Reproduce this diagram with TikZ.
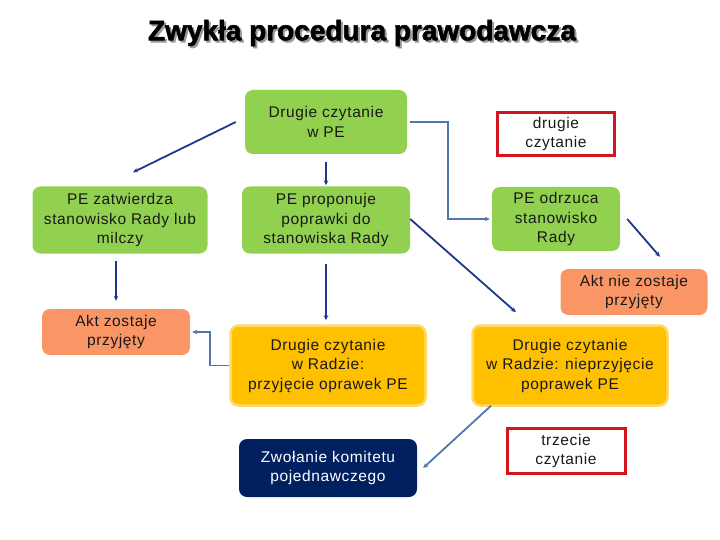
\documentclass[tikz,border=0pt]{standalone}
\usepackage{fontspec}
\setmainfont{Liberation Sans}
\newfontfamily\titlefont[FakeBold=2]{Liberation Sans Bold}
\newfontfamily\boxfont[LetterSpace=4]{Liberation Sans}
\usetikzlibrary{arrows.meta}
\definecolor{grn}{RGB}{146,208,80}
\definecolor{salmon}{RGB}{250,150,102}
\definecolor{ylw}{RGB}{255,192,0}
\definecolor{ylwb}{RGB}{255,217,102}
\definecolor{navy}{RGB}{0,32,96}
\definecolor{redb}{RGB}{210,20,30}
\definecolor{darr}{RGB}{30,55,140}
\definecolor{larr}{RGB}{80,120,170}
\definecolor{txt}{RGB}{25,25,25}
\tikzset{
  box/.style={rounded corners=8pt, align=center, inner sep=0pt, text=txt,
    font=\boxfont\fontsize{15.5}{19.5}\selectfont},
  gbox/.style={box, fill=grn},
  sbox/.style={box, fill=salmon},
  ybox/.style={box, fill=ylw, draw=ylwb, line width=2.5pt},
  nbox/.style={box, fill=navy, text=white},
  rbox/.style={align=center, inner sep=0pt, draw=redb, line width=3pt, text=txt,
    font=\boxfont\fontsize{15.5}{19.5}\selectfont},
  darrow/.style={draw=darr, line width=1.8pt, -{Stealth[length=5pt,width=4.5pt]}},
  larrow/.style={draw=larr, line width=1.8pt, -{Stealth[length=5pt,width=4.5pt]}},
}
\begin{document}
\begin{tikzpicture}[x=1pt,y=-1pt]
\useasboundingbox (0,0) rectangle (720,540);
% title
\node[text=black!40, font=\titlefont\fontsize{28}{32}\selectfont] (tshadow) at (364,35) {Zwykła procedura prawodawcza};
\node[text=black, font=\titlefont\fontsize{28}{32}\selectfont] (title) at (362,33) {Zwykła procedura prawodawcza};
% nodes
\node[gbox, minimum width=162pt, minimum height=64pt] (n1) at (326,122) {Drugie czytanie\\w PE};
\node[gbox, minimum width=175pt, minimum height=67pt] (n2) at (120,220) {PE zatwierdza\\stanowisko Rady lub\\milczy};
\node[gbox, minimum width=168pt, minimum height=67pt] (n3) at (326,220) {PE proponuje\\poprawki do\\stanowiska Rady};
\node[gbox, minimum width=128pt, minimum height=64pt] (n4) at (556,219) {PE odrzuca\\stanowisko\\Rady};
\node[rbox, minimum width=117pt, minimum height=43pt] (r1) at (556,134) {drugie\\czytanie};
\node[sbox, minimum width=147pt, minimum height=46pt] (n6) at (634,292) {Akt nie zostaje\\przyjęty};
\node[sbox, minimum width=148pt, minimum height=46pt] (n7) at (116,332) {Akt zostaje\\przyjęty};
\node[ybox, minimum width=195pt, minimum height=80pt] (n8) at (328,365.5) {Drugie czytanie\\w Radzie:\\przyjęcie oprawek PE};
\node[ybox, minimum width=195pt, minimum height=80pt] (n9) at (570,365.5) {Drugie czytanie\\w Radzie: nieprzyjęcie\\poprawek PE};
\node[nbox, minimum width=178pt, minimum height=58pt] (n10) at (328,468) {Zwołanie komitetu\\pojednawczego};
\node[rbox, minimum width=118pt, minimum height=45pt] (r2) at (566,451) {trzecie\\czytanie};
% connectors
\draw[darrow] ([xshift=-9pt]n1.west) -- ([xshift=13pt,yshift=14pt]n2.north);
\draw[darrow, shorten <=8pt, shorten >=1pt] (n1) -- (n3);
\draw[larrow, shorten <=3pt, shorten >=2pt] (n1.east) -- ++(41,0) |- (n4.west);
\draw[darrow, shorten >=8pt] ([yshift=-7pt]n2.south -| n7.north) -- (n7.north);
\draw[darrow, shorten <=10pt, shorten >=4pt] (n3.south) -- (n3.south |- n8.north);
\draw[darrow] ([yshift=1pt]n3.east) -- ([xshift=-54pt,yshift=12pt]n9.north);
\draw[darrow] ([xshift=7pt]n4.east) -- ([xshift=26pt,yshift=12pt]n6.north);
\draw[larrow, shorten >=2pt] (n8.west) -- ++(-19,0) |- (n7.east);
\draw[larrow] ([xshift=-79pt,yshift=1pt]n9.south) -- ([xshift=6pt]n10.east);
\end{tikzpicture}
\end{document}
